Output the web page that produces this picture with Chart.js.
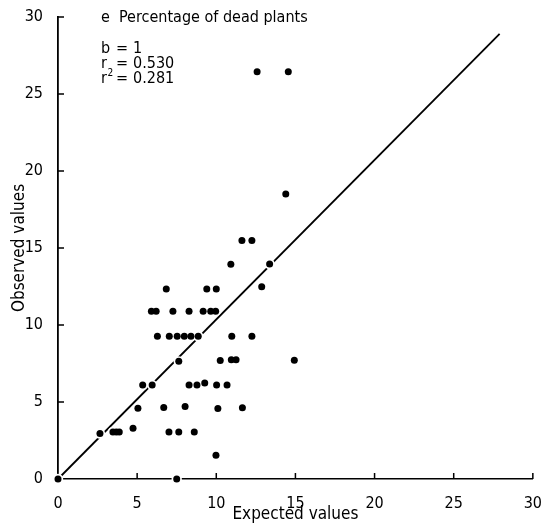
<!DOCTYPE html>
<html>
<head>
<meta charset="utf-8">
<script src="https://cdn.jsdelivr.net/npm/chart.js@4.4.0/dist/chart.umd.min.js"></script>
<style>
  body { margin: 0; background: #fff; }
  #wrap { width: 549px; height: 527px; position: relative; }
</style>
</head>
<body>
<div id="wrap"><canvas id="chart"></canvas></div>
<script>
// Panel e: observed vs expected percentage of dead plants
const expected = [0, 2.65, 3.47, 3.68, 3.87, 4.74, 5.05, 5.35, 5.95, 5.9, 6.2, 6.28, 6.68, 6.84,
  7.01, 7.03, 7.26, 7.5, 7.53, 7.63, 7.63, 7.98, 8.03, 8.28, 8.28, 8.4, 8.61, 8.78, 8.86,
  9.17, 9.27, 9.4, 9.65, 9.96, 9.98, 10.0, 10.02, 10.1, 10.25, 10.68, 10.92, 10.95, 10.98,
  11.25, 11.62, 11.65, 12.25, 12.25, 12.58, 12.87, 13.37, 14.39, 14.55, 14.93];
const observed = [0, 2.95, 3.05, 3.05, 3.05, 3.3, 4.6, 6.1, 6.1, 10.9, 10.9, 9.27, 4.65, 12.34,
  3.05, 9.27, 10.9, 0, 9.27, 3.05, 7.64, 9.27, 4.7, 10.9, 6.1, 9.27, 3.05, 6.1, 9.27,
  10.9, 6.23, 12.34, 10.9, 10.9, 1.54, 12.34, 6.1, 4.57, 7.7, 6.1, 13.94, 7.75, 9.27,
  7.75, 15.48, 4.63, 9.27, 15.48, 26.45, 12.49, 13.96, 18.5, 26.45, 7.71];
const fitX = [0, 27.9];
const fitY = [0, 28.9];
const tickValues = [0, 5, 10, 15, 20, 25, 30];
const panelTitle = 'Percentage of dead plants';
const statNames = ['b', 'r', 'r'];
const statSup = ['', '', '2'];
const statValues = ['1', '0.530', '0.281'];

const FONT = '"DejaVu Sans Condensed", "DejaVu Sans", sans-serif';

const points = expected.map((x, i) => ({ x: x, y: observed[i] }));
const fitLine = fitX.map((x, i) => ({ x: x, y: fitY[i] }));

// tick marks point into the plot, like the original figure
const inwardTicks = {
  id: 'inwardTicks',
  beforeDatasetsDraw(chart) {
    const { ctx, chartArea, scales } = chart;
    ctx.save();
    ctx.strokeStyle = '#000';
    ctx.lineWidth = 1.5;
    ctx.beginPath();
    tickValues.forEach(v => {
      if (v === 0) return;
      const px = scales.x.getPixelForValue(v);
      ctx.moveTo(px, chartArea.bottom);
      ctx.lineTo(px, chartArea.bottom - 6);
      const py = scales.y.getPixelForValue(v);
      ctx.moveTo(chartArea.left, py);
      ctx.lineTo(chartArea.left + 6, py);
    });
    ctx.stroke();
    ctx.restore();
  }
};

const statsText = {
  id: 'statsText',
  afterDraw(chart) {
    const ctx = chart.ctx;
    ctx.save();
    ctx.fillStyle = '#000';
    ctx.textBaseline = 'alphabetic';
    ctx.font = '16px ' + FONT;
    ctx.fillText('e', 101, 22);
    ctx.fillText(panelTitle, 119, 22);
    statNames.forEach((name, i) => {
      const y = 53 + i * 15;
      ctx.font = '16px ' + FONT;
      ctx.fillText(name, 101, y);
      ctx.fillText('=', 116, y);
      ctx.fillText(statValues[i], 133, y);
      if (statSup[i]) {
        const w = ctx.measureText(name).width;
        ctx.font = '10px ' + FONT;
        ctx.fillText(statSup[i], 101 + w + 0.5, y - 7);
      }
    });
    ctx.restore();
  }
};

new Chart(document.getElementById('chart'), {
  type: 'scatter',
  data: {
    datasets: [
      { data: fitLine, showLine: true, borderColor: '#000', borderWidth: 1.8,
        pointRadius: 0, order: 3, clip: false },
      // white halo so the line breaks around the dots
      { data: points, pointRadius: 5.2, backgroundColor: '#fff', borderWidth: 0,
        order: 2, clip: false },
      { data: points, pointRadius: 3.5, backgroundColor: '#000', borderWidth: 0,
        order: 1, clip: false }
    ]
  },
  options: {
    responsive: true,
    maintainAspectRatio: false,
    animation: false,
    layout: { padding: { top: 17, right: 10, left: 0, bottom: 0 } },
    plugins: { legend: { display: false }, tooltip: { enabled: false } },
    scales: {
      x: {
        min: 0, max: 30,
        afterFit: s => { s.height = 48; },
        grid: { display: false },
        border: { display: true, color: '#000', width: 1.5 },
        ticks: { stepSize: 5, color: '#000', padding: 7, maxRotation: 0,
          font: { family: FONT, size: 16 } },
        title: { display: true, text: 'Expected values', color: '#000',
          font: { family: FONT, size: 17 }, padding: { top: 0, bottom: 2 } }
      },
      y: {
        min: 0, max: 30,
        afterFit: s => { s.width = 58; },
        grid: { display: false },
        border: { display: true, color: '#000', width: 1.8 },
        ticks: { stepSize: 5, color: '#000', padding: 7,
          font: { family: FONT, size: 16 } },
        title: { display: true, text: 'Observed values', color: '#000',
          font: { family: FONT, size: 17 }, padding: { top: 9, bottom: 0 } }
      }
    }
  },
  plugins: [inwardTicks, statsText]
});
</script>
</body>
</html>
